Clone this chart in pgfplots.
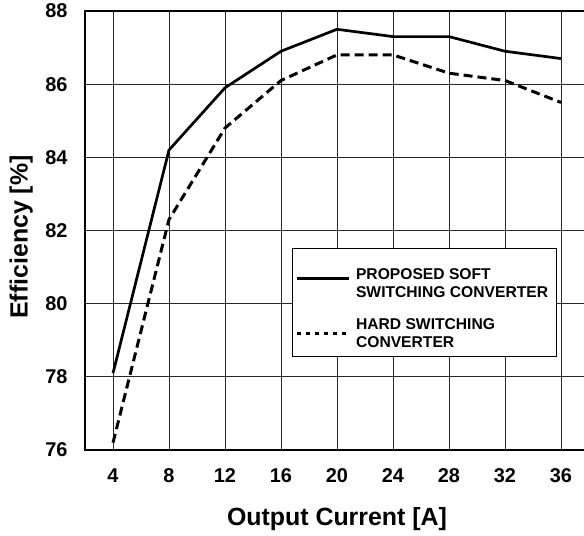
\documentclass[border=0pt]{standalone}
\usepackage{fontspec}
\setmainfont{Liberation Sans}
\usepackage{pgfplots}
\pgfplotsset{compat=1.18}

\begin{document}
\begin{tikzpicture}
\begin{axis}[
  scale only axis,
  width=532bp, height=439bp,
  xmin=2, xmax=40, ymin=76, ymax=88,
  xtick={4,8,...,36}, ytick={76,78,...,88},
  grid=major, grid style={black!85, line width=0.7bp},
  axis line style={black, line width=1.2bp},
  major tick length=0pt,
  /pgf/number format/assume math mode=true,
  tick label style={font=\fontsize{20}{24}\selectfont\bfseries},
  yticklabel style={xshift=-14bp},
  xticklabel style={yshift=-15bp},
  xlabel={Output Current [A]},
  ylabel={Efficiency [\%]},
  label style={font=\fontsize{25}{30}\selectfont\bfseries},
  xlabel style={at={(axis description cs:0.4737,-0.157)}, anchor=center},
  ylabel style={at={(axis description cs:-0.12,0.485)}, anchor=center, rotate=0},
  legend style={at={(axis description cs:0.389,0.46)}, anchor=north west,
    draw=black, line width=0.8bp, fill=white,
    font=\fontsize{15.7}{18.5}\selectfont\bfseries,
    inner xsep=3bp, inner ysep=5bp, row sep=15bp,
    nodes={align=left, inner xsep=5.5bp, inner ysep=2bp}},
  legend cell align=left,
]
\addplot[black, line width=2.7bp,
  legend image code/.code={\draw[black, line width=3bp] (0bp,-1bp) -- (52bp,-1bp);}]
  coordinates {(4,78.1) (8,84.2) (12,85.9) (16,86.9) (20,87.5) (24,87.3) (28,87.3) (32,86.9) (36,86.7)};
\addlegendentry{\rule{0pt}{24bp}PROPOSED SOFT\\SWITCHING CONVERTER}
\addplot[black, line width=3bp, dash pattern=on 9bp off 5bp,
  legend image code/.code={\draw[black, line width=3.2bp, dash pattern=on 4bp off 5bp] (0bp,0bp) -- (52bp,0bp);}]
  coordinates {(4,76.2) (8,82.3) (12,84.8) (16,86.1) (20,86.8) (24,86.8) (28,86.3) (32,86.1) (36,85.5)};
\addlegendentry{HARD SWITCHING\\CONVERTER}
\coordinate (bl) at (axis cs:2,76);
\coordinate (tr) at (axis cs:37.643,88);
\end{axis}
\pgfresetboundingbox
\useasboundingbox ([xshift=-85bp,yshift=-86bp]bl) rectangle ([yshift=11bp]tr);
\end{tikzpicture}
\end{document}
